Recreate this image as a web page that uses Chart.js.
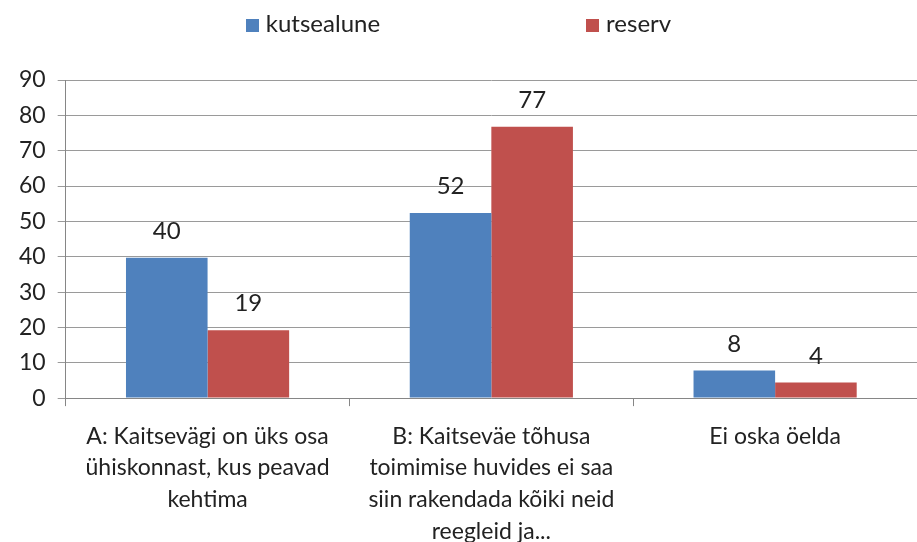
<!DOCTYPE html>
<html>
<head>
<meta charset="utf-8">
<script src="https://cdn.jsdelivr.net/npm/chart.js@4/dist/chart.umd.min.js"></script>
<style>
  body { margin: 0; background: #fff; }
  #wrap { position: relative; width: 917px; height: 542px; overflow: hidden; }
  #legend {
    position: absolute; top: 8px; left: 0px; width: 917px;
    display: flex; justify-content: center; gap: 206px;
    font-family: Lato, 'Open Sans', sans-serif; font-size: 24px; color: #222;
  }
  #legend span.box { display: inline-block; width: 13px; height: 13px; margin-right: 7px; vertical-align: 0px; }
</style>
</head>
<body>
<div id="wrap">
  <canvas id="chart" width="917" height="562"></canvas>
  <div id="legend"></div>
</div>
<script>
// Categories and series
const categories = [
    ['A: Kaitsevägi on üks osa', 'ühiskonnast, kus peavad', 'kehtima'],
    ['B: Kaitseväe tõhusa', 'toimimise huvides ei saa', 'siin rakendada kõiki neid', 'reegleid ja...'],
    'Ei oska öelda'
];
const seriesNames = ['kutsealune', 'reserv'];
const seriesColors = ['#4F81BD', '#C0504D'];
const kutsealune = [39.7, 52.4, 7.8];
const reserv = [19.2, 76.8, 4.4];
const yTicks = [0, 10, 20, 30, 40, 50, 60, 70, 80, 90];

const FONT = "Lato, 'Open Sans', sans-serif";

// Value labels above bars
const valueLabels = {
    id: 'valueLabels',
    afterDatasetsDraw(chart) {
        const ctx = chart.ctx;
        ctx.save();
        ctx.font = '24px ' + FONT;
        ctx.fillStyle = '#222';
        ctx.textAlign = 'center';
        ctx.textBaseline = 'alphabetic';
        chart.data.datasets.forEach((ds, i) => {
            chart.getDatasetMeta(i).data.forEach((bar, j) => {
                ctx.fillText(Math.round(ds.data[j]), bar.x, bar.y - 19);
            });
        });
        ctx.restore();
    }
};

// HTML legend
const legendEl = document.getElementById('legend');
seriesNames.forEach((name, i) => {
    const item = document.createElement('div');
    item.innerHTML = `<span class="box" style="background:${seriesColors[i]}"></span>${name}`;
    legendEl.appendChild(item);
});

new Chart(document.getElementById('chart'), {
    type: 'bar',
    data: {
        labels: categories,
        datasets: [{
            label: seriesNames[0],
            data: kutsealune,
            backgroundColor: seriesColors[0]
        }, {
            label: seriesNames[1],
            data: reserv,
            backgroundColor: seriesColors[1]
        }]
    },
    options: {
        responsive: false,
        animation: false,
        layout: { padding: { top: 80, left: 7, right: 0, bottom: 0 } },
        datasets: { bar: { categoryPercentage: 0.575, barPercentage: 1.0 } },
        plugins: {
            legend: { display: false },
            tooltip: { enabled: false }
        },
        scales: {
            x: {
                grid: { offset: true, drawOnChartArea: false, color: '#868686', tickLength: 8 },
                border: { color: '#868686' },
                ticks: { color: '#222', font: { family: FONT, size: 23, lineHeight: 1.39 }, maxRotation: 0, padding: 14 }
            },
            y: {
                min: 0,
                max: 90,
                afterBuildTicks(axis) { axis.ticks = yTicks.map(v => ({ value: v })); },
                grid: { color: '#9a9a9a', tickLength: 8 },
                border: { color: '#868686' },
                ticks: { color: '#222', font: { family: FONT, size: 23 }, padding: 12 }
            }
        }
    },
    plugins: [valueLabels]
});
</script>
</body>
</html>
